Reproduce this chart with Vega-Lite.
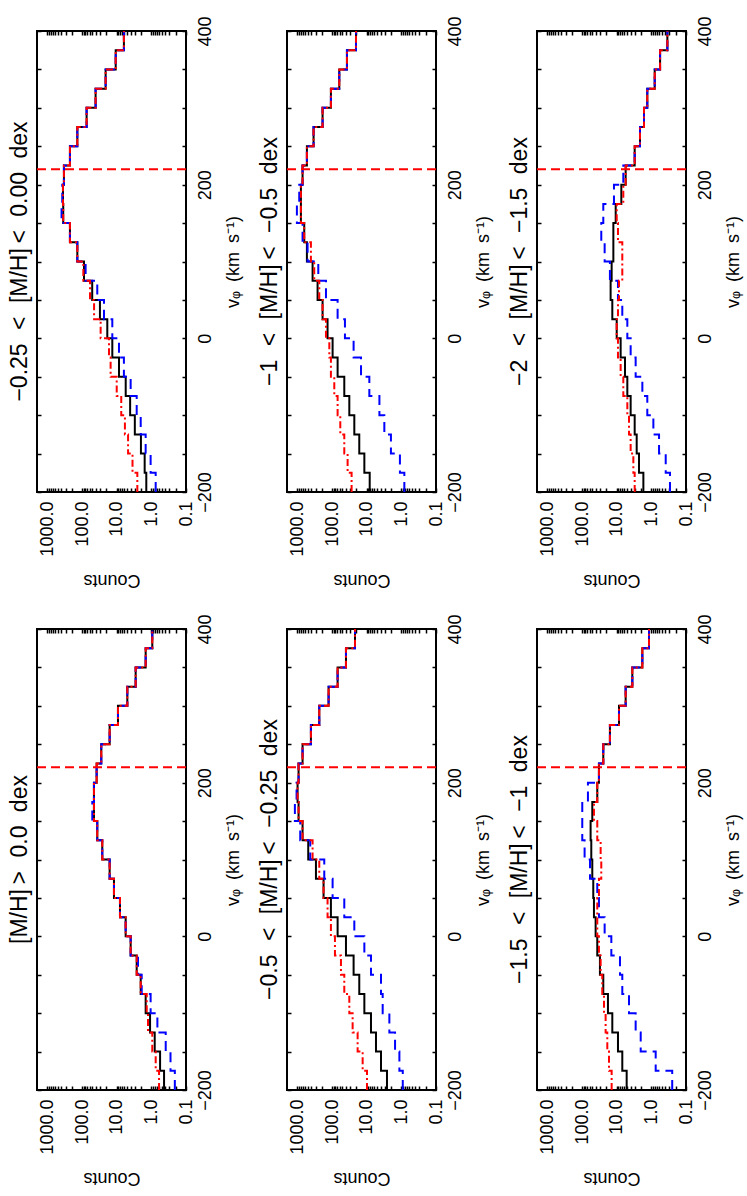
{
  "$schema": "https://vega.github.io/schema/vega-lite/v6.json",
  "background": "white",
  "padding": {"left": 7, "top": 14, "right": 5, "bottom": 5},
  "bounds": "flush",
  "columns": 3,
  "spacing": {"row": 137, "column": 101},
  "datasets": {
    "ref": [{"v": 220}],
    "hist": [
      {"p":1,"v_lo":-200,"v_hi":-175,"solid":1.4,"dashed":0.75,"dotdash":2.54},
      {"p":1,"v_lo":-175,"v_hi":-150,"solid":1.56,"dashed":1.05,"dotdash":3.5},
      {"p":1,"v_lo":-150,"v_hi":-125,"solid":2.0,"dashed":1.46,"dotdash":4.7},
      {"p":1,"v_lo":-125,"v_hi":-100,"solid":3.0,"dashed":2.03,"dotdash":5.8},
      {"p":1,"v_lo":-100,"v_hi":-75,"solid":4.1,"dashed":2.65,"dotdash":7.4},
      {"p":1,"v_lo":-75,"v_hi":-50,"solid":5.5,"dashed":3.96,"dotdash":10.0},
      {"p":1,"v_lo":-50,"v_hi":-25,"solid":8.6,"dashed":6.2,"dotdash":15.0},
      {"p":1,"v_lo":-25,"v_hi":0,"solid":13.4,"dashed":8.6,"dotdash":16.7},
      {"p":1,"v_lo":0,"v_hi":25,"solid":18.7,"dashed":13.4,"dotdash":29.1},
      {"p":1,"v_lo":25,"v_hi":50,"solid":30.5,"dashed":23.3,"dotdash":45},
      {"p":1,"v_lo":50,"v_hi":75,"solid":51,"dashed":36.4,"dotdash":59},
      {"p":1,"v_lo":75,"v_hi":100,"solid":88,"dashed":79,"dotdash":92},
      {"p":1,"v_lo":100,"v_hi":125,"solid":137,"dashed":137,"dotdash":137},
      {"p":1,"v_lo":125,"v_hi":150,"solid":224,"dashed":224,"dotdash":224},
      {"p":1,"v_lo":150,"v_hi":175,"solid":350,"dashed":391,"dotdash":350},
      {"p":1,"v_lo":175,"v_hi":200,"solid":356,"dashed":373,"dotdash":356},
      {"p":1,"v_lo":200,"v_hi":225,"solid":334,"dashed":334,"dotdash":334},
      {"p":1,"v_lo":225,"v_hi":250,"solid":224,"dashed":224,"dotdash":224},
      {"p":1,"v_lo":250,"v_hi":275,"solid":137,"dashed":137,"dotdash":137},
      {"p":1,"v_lo":275,"v_hi":300,"solid":74,"dashed":74,"dotdash":74},
      {"p":1,"v_lo":300,"v_hi":325,"solid":40.7,"dashed":40.7,"dotdash":40.7},
      {"p":1,"v_lo":325,"v_hi":350,"solid":20.9,"dashed":20.9,"dotdash":20.9},
      {"p":1,"v_lo":350,"v_hi":375,"solid":10.7,"dashed":10.7,"dotdash":10.7},
      {"p":1,"v_lo":375,"v_hi":400,"solid":6.2,"dashed":6.2,"dotdash":6.2},

      {"p":2,"v_lo":-200,"v_hi":-175,"solid":8.2,"dashed":0.82,"dotdash":27.3},
      {"p":2,"v_lo":-175,"v_hi":-150,"solid":11.7,"dashed":1.1,"dotdash":35.6},
      {"p":2,"v_lo":-150,"v_hi":-125,"solid":16.4,"dashed":2.0,"dotdash":44.4},
      {"p":2,"v_lo":-125,"v_hi":-100,"solid":22.8,"dashed":3.1,"dotdash":57.9},
      {"p":2,"v_lo":-100,"v_hi":-75,"solid":31.8,"dashed":4.3,"dotdash":69.2},
      {"p":2,"v_lo":-75,"v_hi":-50,"solid":44.4,"dashed":8.4,"dotdash":86.3},
      {"p":2,"v_lo":-50,"v_hi":-25,"solid":69.2,"dashed":14.6,"dotdash":108},
      {"p":2,"v_lo":-25,"v_hi":0,"solid":96.5,"dashed":23.9,"dotdash":120},
      {"p":2,"v_lo":0,"v_hi":25,"solid":135,"dashed":42.5,"dotdash":150},
      {"p":2,"v_lo":25,"v_hi":50,"solid":188,"dashed":69.2,"dotdash":188},
      {"p":2,"v_lo":50,"v_hi":75,"solid":262,"dashed":150,"dotdash":234},
      {"p":2,"v_lo":75,"v_hi":100,"solid":365,"dashed":250,"dotdash":327},
      {"p":2,"v_lo":100,"v_hi":125,"solid":533,"dashed":509,"dotdash":408},
      {"p":2,"v_lo":125,"v_hi":150,"solid":636,"dashed":711,"dotdash":636},
      {"p":2,"v_lo":150,"v_hi":175,"solid":794,"dashed":1036,"dotdash":794},
      {"p":2,"v_lo":175,"v_hi":200,"solid":794,"dashed":887,"dotdash":794},
      {"p":2,"v_lo":200,"v_hi":225,"solid":711,"dashed":711,"dotdash":711},
      {"p":2,"v_lo":225,"v_hi":250,"solid":533,"dashed":533,"dotdash":533},
      {"p":2,"v_lo":250,"v_hi":275,"solid":342,"dashed":342,"dotdash":342},
      {"p":2,"v_lo":275,"v_hi":300,"solid":188,"dashed":188,"dotdash":188},
      {"p":2,"v_lo":300,"v_hi":325,"solid":108,"dashed":108,"dotdash":108},
      {"p":2,"v_lo":325,"v_hi":350,"solid":61.9,"dashed":61.9,"dotdash":61.9},
      {"p":2,"v_lo":350,"v_hi":375,"solid":37.2,"dashed":37.2,"dotdash":37.2},
      {"p":2,"v_lo":375,"v_hi":400,"solid":20.4,"dashed":20.4,"dotdash":20.4},

      {"p":3,"v_lo":-200,"v_hi":-175,"solid":1.70,"dashed":0.29,"dotdash":3.03},
      {"p":3,"v_lo":-175,"v_hi":-150,"solid":2.27,"dashed":0.385,"dotdash":3.31},
      {"p":3,"v_lo":-150,"v_hi":-125,"solid":2.65,"dashed":0.60,"dotdash":3.96},
      {"p":3,"v_lo":-125,"v_hi":-100,"solid":3.03,"dashed":0.875,"dotdash":4.42},
      {"p":3,"v_lo":-100,"v_hi":-75,"solid":3.96,"dashed":1.31,"dotdash":4.94},
      {"p":3,"v_lo":-75,"v_hi":-50,"solid":4.94,"dashed":1.82,"dotdash":6.45},
      {"p":3,"v_lo":-50,"v_hi":-25,"solid":5.77,"dashed":2.84,"dotdash":7.7},
      {"p":3,"v_lo":-25,"v_hi":0,"solid":7.7,"dashed":3.96,"dotdash":9.2},
      {"p":3,"v_lo":0,"v_hi":25,"solid":10.0,"dashed":4.94,"dotdash":10.0},
      {"p":3,"v_lo":25,"v_hi":50,"solid":13.4,"dashed":6.9,"dotdash":9.2},
      {"p":3,"v_lo":50,"v_hi":75,"solid":15.0,"dashed":9.2,"dotdash":8.6},
      {"p":3,"v_lo":75,"v_hi":100,"solid":14.0,"dashed":15.7,"dotdash":6.9},
      {"p":3,"v_lo":100,"v_hi":125,"solid":12.5,"dashed":22.3,"dotdash":6.9},
      {"p":3,"v_lo":125,"v_hi":150,"solid":12.5,"dashed":27.9,"dotdash":9.2},
      {"p":3,"v_lo":150,"v_hi":175,"solid":10.7,"dashed":24.4,"dotdash":10.0},
      {"p":3,"v_lo":175,"v_hi":200,"solid":7.36,"dashed":12.0,"dotdash":6.45},
      {"p":3,"v_lo":200,"v_hi":225,"solid":5.52,"dashed":6.45,"dotdash":5.52},
      {"p":3,"v_lo":225,"v_hi":250,"solid":3.03,"dashed":3.03,"dotdash":3.03},
      {"p":3,"v_lo":250,"v_hi":275,"solid":2.13,"dashed":2.13,"dotdash":2.13},
      {"p":3,"v_lo":275,"v_hi":300,"solid":1.63,"dashed":1.63,"dotdash":1.63},
      {"p":3,"v_lo":300,"v_hi":325,"solid":1.31,"dashed":1.31,"dotdash":1.31},
      {"p":3,"v_lo":325,"v_hi":350,"solid":0.80,"dashed":0.80,"dotdash":0.80},
      {"p":3,"v_lo":350,"v_hi":375,"solid":0.56,"dashed":0.56,"dotdash":0.56},
      {"p":3,"v_lo":375,"v_hi":400,"solid":0.345,"dashed":0.345,"dotdash":0.345},

      {"p":4,"v_lo":-200,"v_hi":-175,"solid":0.43,"dashed":0.21,"dotdash":0.60},
      {"p":4,"v_lo":-175,"v_hi":-150,"solid":0.56,"dashed":0.28,"dotdash":0.75},
      {"p":4,"v_lo":-150,"v_hi":-125,"solid":0.80,"dashed":0.385,"dotdash":0.94},
      {"p":4,"v_lo":-125,"v_hi":-100,"solid":1.09,"dashed":0.67,"dotdash":1.25},
      {"p":4,"v_lo":-100,"v_hi":-75,"solid":1.46,"dashed":1.05,"dotdash":1.36},
      {"p":4,"v_lo":-75,"v_hi":-50,"solid":2.03,"dashed":1.90,"dotdash":2.03},
      {"p":4,"v_lo":-50,"v_hi":-25,"solid":2.65,"dashed":2.43,"dotdash":2.65},
      {"p":4,"v_lo":-25,"v_hi":0,"solid":3.96,"dashed":3.96,"dotdash":3.96},
      {"p":4,"v_lo":0,"v_hi":25,"solid":5.52,"dashed":5.52,"dotdash":5.52},
      {"p":4,"v_lo":25,"v_hi":50,"solid":8.05,"dashed":8.05,"dotdash":8.05},
      {"p":4,"v_lo":50,"v_hi":75,"solid":12.0,"dashed":12.0,"dotdash":12.0},
      {"p":4,"v_lo":75,"v_hi":100,"solid":16.0,"dashed":16.0,"dotdash":16.0},
      {"p":4,"v_lo":100,"v_hi":125,"solid":26.1,"dashed":26.1,"dotdash":26.1},
      {"p":4,"v_lo":125,"v_hi":150,"solid":36.4,"dashed":36.4,"dotdash":36.4},
      {"p":4,"v_lo":150,"v_hi":175,"solid":45.4,"dashed":50.7,"dotdash":45.4},
      {"p":4,"v_lo":175,"v_hi":200,"solid":45.4,"dashed":45.4,"dotdash":45.4},
      {"p":4,"v_lo":200,"v_hi":225,"solid":38.0,"dashed":38.0,"dotdash":38.0},
      {"p":4,"v_lo":225,"v_hi":250,"solid":27.9,"dashed":27.9,"dotdash":27.9},
      {"p":4,"v_lo":250,"v_hi":275,"solid":16.0,"dashed":16.0,"dotdash":16.0},
      {"p":4,"v_lo":275,"v_hi":300,"solid":9.2,"dashed":9.2,"dotdash":9.2},
      {"p":4,"v_lo":300,"v_hi":325,"solid":4.94,"dashed":4.94,"dotdash":4.94},
      {"p":4,"v_lo":325,"v_hi":350,"solid":2.84,"dashed":2.84,"dotdash":2.84},
      {"p":4,"v_lo":350,"v_hi":375,"solid":1.46,"dashed":1.46,"dotdash":1.46},
      {"p":4,"v_lo":375,"v_hi":400,"solid":0.94,"dashed":0.94,"dotdash":0.94},

      {"p":5,"v_lo":-200,"v_hi":-175,"solid":2.60,"dashed":0.91,"dotdash":9.82},
      {"p":5,"v_lo":-175,"v_hi":-150,"solid":3.87,"dashed":1.14,"dotdash":13.1},
      {"p":5,"v_lo":-150,"v_hi":-125,"solid":5.40,"dashed":1.52,"dotdash":18.3},
      {"p":5,"v_lo":-125,"v_hi":-100,"solid":7.53,"dashed":2.22,"dotdash":25.5},
      {"p":5,"v_lo":-100,"v_hi":-75,"solid":11.7,"dashed":3.46,"dotdash":31.8},
      {"p":5,"v_lo":-75,"v_hi":-50,"solid":16.4,"dashed":3.87,"dotdash":44.4},
      {"p":5,"v_lo":-50,"v_hi":-25,"solid":23.9,"dashed":7.53,"dotdash":55.4},
      {"p":5,"v_lo":-25,"v_hi":0,"solid":39.7,"dashed":11.7,"dotdash":82.6},
      {"p":5,"v_lo":0,"v_hi":25,"solid":69.2,"dashed":22.8,"dotdash":108},
      {"p":5,"v_lo":25,"v_hi":50,"solid":108,"dashed":44.4,"dotdash":135},
      {"p":5,"v_lo":50,"v_hi":75,"solid":176,"dashed":96.5,"dotdash":176},
      {"p":5,"v_lo":75,"v_hi":100,"solid":292,"dashed":168,"dotdash":234},
      {"p":5,"v_lo":100,"v_hi":125,"solid":488,"dashed":427,"dotdash":365},
      {"p":5,"v_lo":125,"v_hi":150,"solid":711,"dashed":830,"dotdash":711},
      {"p":5,"v_lo":150,"v_hi":175,"solid":927,"dashed":1184,"dotdash":927},
      {"p":5,"v_lo":175,"v_hi":200,"solid":991,"dashed":1059,"dotdash":991},
      {"p":5,"v_lo":200,"v_hi":225,"solid":927,"dashed":927,"dotdash":927},
      {"p":5,"v_lo":225,"v_hi":250,"solid":711,"dashed":711,"dotdash":711},
      {"p":5,"v_lo":250,"v_hi":275,"solid":408,"dashed":408,"dotdash":408},
      {"p":5,"v_lo":275,"v_hi":300,"solid":234,"dashed":234,"dotdash":234},
      {"p":5,"v_lo":300,"v_hi":325,"solid":126,"dashed":126,"dotdash":126},
      {"p":5,"v_lo":325,"v_hi":350,"solid":69.2,"dashed":69.2,"dotdash":69.2},
      {"p":5,"v_lo":350,"v_hi":375,"solid":39.7,"dashed":39.7,"dotdash":39.7},
      {"p":5,"v_lo":375,"v_hi":400,"solid":21.8,"dashed":21.8,"dotdash":21.8},

      {"p":6,"v_lo":-200,"v_hi":-175,"solid":5.16,"dashed":0.25,"dotdash":14.0},
      {"p":6,"v_lo":-175,"v_hi":-150,"solid":6.9,"dashed":0.75,"dotdash":16.7},
      {"p":6,"v_lo":-150,"v_hi":-125,"solid":9.2,"dashed":2.03,"dotdash":18.7},
      {"p":6,"v_lo":-125,"v_hi":-100,"solid":13.4,"dashed":2.84,"dotdash":20.9},
      {"p":6,"v_lo":-100,"v_hi":-75,"solid":17.9,"dashed":4.42,"dotdash":23.3},
      {"p":6,"v_lo":-75,"v_hi":-50,"solid":24.4,"dashed":6.9,"dotdash":26.1},
      {"p":6,"v_lo":-50,"v_hi":-25,"solid":30.5,"dashed":8.05,"dotdash":29.1},
      {"p":6,"v_lo":-25,"v_hi":0,"solid":36.4,"dashed":14.3,"dotdash":32.6},
      {"p":6,"v_lo":0,"v_hi":25,"solid":40.6,"dashed":22.3,"dotdash":36.4},
      {"p":6,"v_lo":25,"v_hi":50,"solid":45.4,"dashed":32.6,"dotdash":36.4},
      {"p":6,"v_lo":50,"v_hi":75,"solid":47.5,"dashed":36.4,"dotdash":32.6},
      {"p":6,"v_lo":75,"v_hi":100,"solid":50.7,"dashed":59.0,"dotdash":27.9},
      {"p":6,"v_lo":100,"v_hi":125,"solid":54.2,"dashed":84.5,"dotdash":29.1},
      {"p":6,"v_lo":125,"v_hi":150,"solid":56.7,"dashed":98.7,"dotdash":36.4},
      {"p":6,"v_lo":150,"v_hi":175,"solid":50.7,"dashed":98.7,"dotdash":45.4},
      {"p":6,"v_lo":175,"v_hi":200,"solid":36.4,"dashed":67.7,"dotdash":36.4},
      {"p":6,"v_lo":200,"v_hi":225,"solid":32.6,"dashed":32.6,"dotdash":32.6},
      {"p":6,"v_lo":225,"v_hi":250,"solid":24.4,"dashed":24.4,"dotdash":24.4},
      {"p":6,"v_lo":250,"v_hi":275,"solid":15.7,"dashed":15.7,"dotdash":15.7},
      {"p":6,"v_lo":275,"v_hi":300,"solid":8.6,"dashed":8.6,"dotdash":8.6},
      {"p":6,"v_lo":300,"v_hi":325,"solid":5.52,"dashed":5.52,"dotdash":5.52},
      {"p":6,"v_lo":325,"v_hi":350,"solid":3.54,"dashed":3.54,"dotdash":3.54},
      {"p":6,"v_lo":350,"v_hi":375,"solid":1.82,"dashed":1.82,"dotdash":1.82},
      {"p":6,"v_lo":375,"v_hi":400,"solid":1.17,"dashed":1.17,"dotdash":1.17}
    ]
  },
  "concat": [
    {
      "title": {"text": "\u22120.25\u2002\u200A<\u2002\u200A[M/H]\u2009<\u2002\u200A0.00\u2002\u200Adex"},
      "width": 149, "height": 461,
      "layer": [
        {
          "data": {"name": "hist"},
          "transform": [
            {"filter": "datum.p === 1"},
            {"fold": ["solid", "dashed", "dotdash"], "as": ["series", "count"]},
            {"fold": ["v_lo", "v_hi"], "as": ["edge", "v"]}
          ],
          "mark": {"type": "line", "strokeWidth": 2},
          "encoding": {
            "x": {"field": "count", "type": "quantitative", "scale": {"type": "log", "domain": [0.1, 2000], "reverse": true, "nice": false}, "axis": {"orient": "bottom", "title": "Counts", "values": [1000,900,800,700,600,500,400,300,200,100,90,80,70,60,50,40,30,20,10,9,8,7,6,5,4,3,2,1,0.9,0.8,0.7,0.6,0.5,0.4,0.3,0.2,0.1], "labelExpr": "indexof([1000,100,10,1,0.1], datum.value) >= 0 ? format(datum.value, '.1f') : ''"}},
            "y": {"field": "v", "type": "quantitative", "scale": {"domain": [-200, 400], "nice": false, "zero": false}, "axis": {"orient": "right", "title": "v\u1D69\u2002(km\u2002s\u207B\u00B9)", "values": [-200,-150,-100,-50,0,50,100,150,200,250,300,350,400], "labelExpr": "datum.value % 200 === 0 ? datum.label : ''"}},
            "color": {"field": "series", "type": "nominal", "scale": {"domain": ["solid", "dashed", "dotdash"], "range": ["#000000", "#0000ff", "#ff0000"]}, "legend": null},
            "strokeDash": {"field": "series", "type": "nominal", "scale": {"domain": ["solid", "dashed", "dotdash"], "range": [[1, 0], [10, 6], [7, 3, 2, 3]]}, "legend": null},
            "order": {"field": "v", "type": "quantitative"}
          }
        },
        {
          "data": {"name": "ref"},
          "mark": {"type": "rule", "color": "#ff0000", "strokeWidth": 2, "strokeDash": [9, 5]},
          "encoding": {
            "y": {"field": "v", "type": "quantitative", "axis": {"orient": "left", "title": null, "labels": false, "values": [-200,-150,-100,-50,0,50,100,150,200,250,300,350,400]}},
            "x": {"datum": 2000, "type": "quantitative", "axis": {"orient": "top", "title": null, "labels": false, "values": [1000,900,800,700,600,500,400,300,200,100,90,80,70,60,50,40,30,20,10,9,8,7,6,5,4,3,2,1,0.9,0.8,0.7,0.6,0.5,0.4,0.3,0.2,0.1]}},
            "x2": {"datum": 0.1}
          }
        }
      ],
      "resolve": {"axis": {"x": "independent", "y": "independent"}}
    },
    {
      "title": {"text": "\u22121\u2002\u200A<\u2002\u200A[M/H]\u2009<\u2002\u200A\u22120.5\u2002\u200Adex"},
      "width": 149, "height": 461,
      "layer": [
        {
          "data": {"name": "hist"},
          "transform": [
            {"filter": "datum.p === 2"},
            {"fold": ["solid", "dashed", "dotdash"], "as": ["series", "count"]},
            {"fold": ["v_lo", "v_hi"], "as": ["edge", "v"]}
          ],
          "mark": {"type": "line", "strokeWidth": 2},
          "encoding": {
            "x": {"field": "count", "type": "quantitative", "scale": {"type": "log", "domain": [0.1, 2000], "reverse": true, "nice": false}, "axis": {"orient": "bottom", "title": "Counts", "values": [1000,900,800,700,600,500,400,300,200,100,90,80,70,60,50,40,30,20,10,9,8,7,6,5,4,3,2,1,0.9,0.8,0.7,0.6,0.5,0.4,0.3,0.2,0.1], "labelExpr": "indexof([1000,100,10,1,0.1], datum.value) >= 0 ? format(datum.value, '.1f') : ''"}},
            "y": {"field": "v", "type": "quantitative", "scale": {"domain": [-200, 400], "nice": false, "zero": false}, "axis": {"orient": "right", "title": "v\u1D69\u2002(km\u2002s\u207B\u00B9)", "values": [-200,-150,-100,-50,0,50,100,150,200,250,300,350,400], "labelExpr": "datum.value % 200 === 0 ? datum.label : ''"}},
            "color": {"field": "series", "type": "nominal", "scale": {"domain": ["solid", "dashed", "dotdash"], "range": ["#000000", "#0000ff", "#ff0000"]}, "legend": null},
            "strokeDash": {"field": "series", "type": "nominal", "scale": {"domain": ["solid", "dashed", "dotdash"], "range": [[1, 0], [10, 6], [7, 3, 2, 3]]}, "legend": null},
            "order": {"field": "v", "type": "quantitative"}
          }
        },
        {
          "data": {"name": "ref"},
          "mark": {"type": "rule", "color": "#ff0000", "strokeWidth": 2, "strokeDash": [9, 5]},
          "encoding": {
            "y": {"field": "v", "type": "quantitative", "axis": {"orient": "left", "title": null, "labels": false, "values": [-200,-150,-100,-50,0,50,100,150,200,250,300,350,400]}},
            "x": {"datum": 2000, "type": "quantitative", "axis": {"orient": "top", "title": null, "labels": false, "values": [1000,900,800,700,600,500,400,300,200,100,90,80,70,60,50,40,30,20,10,9,8,7,6,5,4,3,2,1,0.9,0.8,0.7,0.6,0.5,0.4,0.3,0.2,0.1]}},
            "x2": {"datum": 0.1}
          }
        }
      ],
      "resolve": {"axis": {"x": "independent", "y": "independent"}}
    },
    {
      "title": {"text": "\u22122\u2002\u200A<\u2002\u200A[M/H]\u2009<\u2002\u200A\u22121.5\u2002\u200Adex"},
      "width": 149, "height": 461,
      "layer": [
        {
          "data": {"name": "hist"},
          "transform": [
            {"filter": "datum.p === 3"},
            {"fold": ["solid", "dashed", "dotdash"], "as": ["series", "count"]},
            {"fold": ["v_lo", "v_hi"], "as": ["edge", "v"]}
          ],
          "mark": {"type": "line", "strokeWidth": 2},
          "encoding": {
            "x": {"field": "count", "type": "quantitative", "scale": {"type": "log", "domain": [0.1, 2000], "reverse": true, "nice": false}, "axis": {"orient": "bottom", "title": "Counts", "values": [1000,900,800,700,600,500,400,300,200,100,90,80,70,60,50,40,30,20,10,9,8,7,6,5,4,3,2,1,0.9,0.8,0.7,0.6,0.5,0.4,0.3,0.2,0.1], "labelExpr": "indexof([1000,100,10,1,0.1], datum.value) >= 0 ? format(datum.value, '.1f') : ''"}},
            "y": {"field": "v", "type": "quantitative", "scale": {"domain": [-200, 400], "nice": false, "zero": false}, "axis": {"orient": "right", "title": "v\u1D69\u2002(km\u2002s\u207B\u00B9)", "values": [-200,-150,-100,-50,0,50,100,150,200,250,300,350,400], "labelExpr": "datum.value % 200 === 0 ? datum.label : ''"}},
            "color": {"field": "series", "type": "nominal", "scale": {"domain": ["solid", "dashed", "dotdash"], "range": ["#000000", "#0000ff", "#ff0000"]}, "legend": null},
            "strokeDash": {"field": "series", "type": "nominal", "scale": {"domain": ["solid", "dashed", "dotdash"], "range": [[1, 0], [10, 6], [7, 3, 2, 3]]}, "legend": null},
            "order": {"field": "v", "type": "quantitative"}
          }
        },
        {
          "data": {"name": "ref"},
          "mark": {"type": "rule", "color": "#ff0000", "strokeWidth": 2, "strokeDash": [9, 5]},
          "encoding": {
            "y": {"field": "v", "type": "quantitative", "axis": {"orient": "left", "title": null, "labels": false, "values": [-200,-150,-100,-50,0,50,100,150,200,250,300,350,400]}},
            "x": {"datum": 2000, "type": "quantitative", "axis": {"orient": "top", "title": null, "labels": false, "values": [1000,900,800,700,600,500,400,300,200,100,90,80,70,60,50,40,30,20,10,9,8,7,6,5,4,3,2,1,0.9,0.8,0.7,0.6,0.5,0.4,0.3,0.2,0.1]}},
            "x2": {"datum": 0.1}
          }
        }
      ],
      "resolve": {"axis": {"x": "independent", "y": "independent"}}
    },
    {
      "title": {"text": "[M/H]\u2009>\u2002\u200A0.0\u2002\u200Adex"},
      "width": 149, "height": 461,
      "layer": [
        {
          "data": {"name": "hist"},
          "transform": [
            {"filter": "datum.p === 4"},
            {"fold": ["solid", "dashed", "dotdash"], "as": ["series", "count"]},
            {"fold": ["v_lo", "v_hi"], "as": ["edge", "v"]}
          ],
          "mark": {"type": "line", "strokeWidth": 2},
          "encoding": {
            "x": {"field": "count", "type": "quantitative", "scale": {"type": "log", "domain": [0.1, 2000], "reverse": true, "nice": false}, "axis": {"orient": "bottom", "title": "Counts", "values": [1000,900,800,700,600,500,400,300,200,100,90,80,70,60,50,40,30,20,10,9,8,7,6,5,4,3,2,1,0.9,0.8,0.7,0.6,0.5,0.4,0.3,0.2,0.1], "labelExpr": "indexof([1000,100,10,1,0.1], datum.value) >= 0 ? format(datum.value, '.1f') : ''"}},
            "y": {"field": "v", "type": "quantitative", "scale": {"domain": [-200, 400], "nice": false, "zero": false}, "axis": {"orient": "right", "title": "v\u1D69\u2002(km\u2002s\u207B\u00B9)", "values": [-200,-150,-100,-50,0,50,100,150,200,250,300,350,400], "labelExpr": "datum.value % 200 === 0 ? datum.label : ''"}},
            "color": {"field": "series", "type": "nominal", "scale": {"domain": ["solid", "dashed", "dotdash"], "range": ["#000000", "#0000ff", "#ff0000"]}, "legend": null},
            "strokeDash": {"field": "series", "type": "nominal", "scale": {"domain": ["solid", "dashed", "dotdash"], "range": [[1, 0], [10, 6], [7, 3, 2, 3]]}, "legend": null},
            "order": {"field": "v", "type": "quantitative"}
          }
        },
        {
          "data": {"name": "ref"},
          "mark": {"type": "rule", "color": "#ff0000", "strokeWidth": 2, "strokeDash": [9, 5]},
          "encoding": {
            "y": {"field": "v", "type": "quantitative", "axis": {"orient": "left", "title": null, "labels": false, "values": [-200,-150,-100,-50,0,50,100,150,200,250,300,350,400]}},
            "x": {"datum": 2000, "type": "quantitative", "axis": {"orient": "top", "title": null, "labels": false, "values": [1000,900,800,700,600,500,400,300,200,100,90,80,70,60,50,40,30,20,10,9,8,7,6,5,4,3,2,1,0.9,0.8,0.7,0.6,0.5,0.4,0.3,0.2,0.1]}},
            "x2": {"datum": 0.1}
          }
        }
      ],
      "resolve": {"axis": {"x": "independent", "y": "independent"}}
    },
    {
      "title": {"text": "\u22120.5\u2002\u200A<\u2002\u200A[M/H]\u2009<\u2002\u200A\u22120.25\u2002\u200Adex"},
      "width": 149, "height": 461,
      "layer": [
        {
          "data": {"name": "hist"},
          "transform": [
            {"filter": "datum.p === 5"},
            {"fold": ["solid", "dashed", "dotdash"], "as": ["series", "count"]},
            {"fold": ["v_lo", "v_hi"], "as": ["edge", "v"]}
          ],
          "mark": {"type": "line", "strokeWidth": 2},
          "encoding": {
            "x": {"field": "count", "type": "quantitative", "scale": {"type": "log", "domain": [0.1, 2000], "reverse": true, "nice": false}, "axis": {"orient": "bottom", "title": "Counts", "values": [1000,900,800,700,600,500,400,300,200,100,90,80,70,60,50,40,30,20,10,9,8,7,6,5,4,3,2,1,0.9,0.8,0.7,0.6,0.5,0.4,0.3,0.2,0.1], "labelExpr": "indexof([1000,100,10,1,0.1], datum.value) >= 0 ? format(datum.value, '.1f') : ''"}},
            "y": {"field": "v", "type": "quantitative", "scale": {"domain": [-200, 400], "nice": false, "zero": false}, "axis": {"orient": "right", "title": "v\u1D69\u2002(km\u2002s\u207B\u00B9)", "values": [-200,-150,-100,-50,0,50,100,150,200,250,300,350,400], "labelExpr": "datum.value % 200 === 0 ? datum.label : ''"}},
            "color": {"field": "series", "type": "nominal", "scale": {"domain": ["solid", "dashed", "dotdash"], "range": ["#000000", "#0000ff", "#ff0000"]}, "legend": null},
            "strokeDash": {"field": "series", "type": "nominal", "scale": {"domain": ["solid", "dashed", "dotdash"], "range": [[1, 0], [10, 6], [7, 3, 2, 3]]}, "legend": null},
            "order": {"field": "v", "type": "quantitative"}
          }
        },
        {
          "data": {"name": "ref"},
          "mark": {"type": "rule", "color": "#ff0000", "strokeWidth": 2, "strokeDash": [9, 5]},
          "encoding": {
            "y": {"field": "v", "type": "quantitative", "axis": {"orient": "left", "title": null, "labels": false, "values": [-200,-150,-100,-50,0,50,100,150,200,250,300,350,400]}},
            "x": {"datum": 2000, "type": "quantitative", "axis": {"orient": "top", "title": null, "labels": false, "values": [1000,900,800,700,600,500,400,300,200,100,90,80,70,60,50,40,30,20,10,9,8,7,6,5,4,3,2,1,0.9,0.8,0.7,0.6,0.5,0.4,0.3,0.2,0.1]}},
            "x2": {"datum": 0.1}
          }
        }
      ],
      "resolve": {"axis": {"x": "independent", "y": "independent"}}
    },
    {
      "title": {"text": "\u22121.5\u2002\u200A<\u2002\u200A[M/H]\u2009<\u2002\u200A\u22121\u2002\u200Adex"},
      "width": 149, "height": 461,
      "layer": [
        {
          "data": {"name": "hist"},
          "transform": [
            {"filter": "datum.p === 6"},
            {"fold": ["solid", "dashed", "dotdash"], "as": ["series", "count"]},
            {"fold": ["v_lo", "v_hi"], "as": ["edge", "v"]}
          ],
          "mark": {"type": "line", "strokeWidth": 2},
          "encoding": {
            "x": {"field": "count", "type": "quantitative", "scale": {"type": "log", "domain": [0.1, 2000], "reverse": true, "nice": false}, "axis": {"orient": "bottom", "title": "Counts", "values": [1000,900,800,700,600,500,400,300,200,100,90,80,70,60,50,40,30,20,10,9,8,7,6,5,4,3,2,1,0.9,0.8,0.7,0.6,0.5,0.4,0.3,0.2,0.1], "labelExpr": "indexof([1000,100,10,1,0.1], datum.value) >= 0 ? format(datum.value, '.1f') : ''"}},
            "y": {"field": "v", "type": "quantitative", "scale": {"domain": [-200, 400], "nice": false, "zero": false}, "axis": {"orient": "right", "title": "v\u1D69\u2002(km\u2002s\u207B\u00B9)", "values": [-200,-150,-100,-50,0,50,100,150,200,250,300,350,400], "labelExpr": "datum.value % 200 === 0 ? datum.label : ''"}},
            "color": {"field": "series", "type": "nominal", "scale": {"domain": ["solid", "dashed", "dotdash"], "range": ["#000000", "#0000ff", "#ff0000"]}, "legend": null},
            "strokeDash": {"field": "series", "type": "nominal", "scale": {"domain": ["solid", "dashed", "dotdash"], "range": [[1, 0], [10, 6], [7, 3, 2, 3]]}, "legend": null},
            "order": {"field": "v", "type": "quantitative"}
          }
        },
        {
          "data": {"name": "ref"},
          "mark": {"type": "rule", "color": "#ff0000", "strokeWidth": 2, "strokeDash": [9, 5]},
          "encoding": {
            "y": {"field": "v", "type": "quantitative", "axis": {"orient": "left", "title": null, "labels": false, "values": [-200,-150,-100,-50,0,50,100,150,200,250,300,350,400]}},
            "x": {"datum": 2000, "type": "quantitative", "axis": {"orient": "top", "title": null, "labels": false, "values": [1000,900,800,700,600,500,400,300,200,100,90,80,70,60,50,40,30,20,10,9,8,7,6,5,4,3,2,1,0.9,0.8,0.7,0.6,0.5,0.4,0.3,0.2,0.1]}},
            "x2": {"datum": 0.1}
          }
        }
      ],
      "resolve": {"axis": {"x": "independent", "y": "independent"}}
    }
  ],
  "config": {
    "font": "Liberation Sans",
    "view": {"stroke": "#000000", "strokeWidth": 2},
    "axis": {
      "grid": false, "domain": false, "ticks": true, "tickSize": -4, "tickColor": "#000000", "tickWidth": 1.5,
      "labelFont": "Liberation Sans", "labelFontSize": 18, "labelColor": "#000000", "labelOverlap": false, "labelFlush": false,
      "titleFont": "Liberation Sans", "titleFontSize": 18, "titleFontWeight": "normal", "titleColor": "#000000"
    },
    "axisBottom": {"labelAngle": 270, "labelAlign": "right", "labelBaseline": "middle", "labelPadding": 13, "titleAngle": 180, "titleBaseline": "bottom", "titlePadding": 14},
    "axisRight": {"labelAngle": 270, "labelAlign": "center", "labelBaseline": "top", "labelPadding": 14, "titleAngle": 270, "titleBaseline": "top", "titlePadding": 10},
    "title": {"orient": "left", "anchor": "middle", "font": "Liberation Sans", "fontSize": 23, "fontWeight": "normal", "color": "#000000", "offset": 4}
  }
}
